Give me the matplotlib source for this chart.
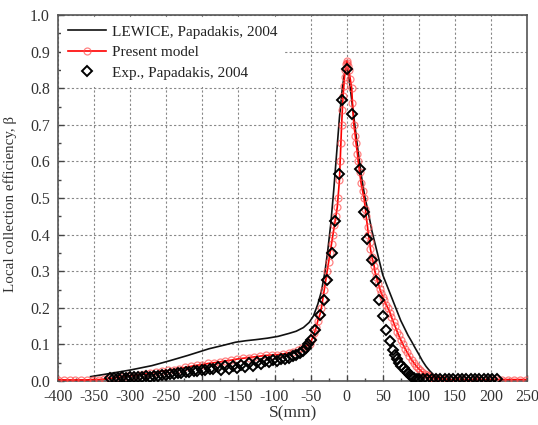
import matplotlib
matplotlib.use("Agg")
import matplotlib.pyplot as plt
from matplotlib.ticker import MultipleLocator

# ---------------- data ----------------
lewice_s = [-355, -330, -300, -270, -246, -220, -191, -170, -154, -140, -126, -110, -95, -80,
            -70, -60, -52, -46, -40, -35, -30, -26, -22, -18, -14, -10, -6, -3, 0,
            2, 5, 10, 15, 20, 25, 30, 35, 40, 45, 50, 55, 60, 65, 70, 75, 80, 85, 90,
            95, 100, 105, 110, 115, 120, 125, 130, 135, 140]
lewice_b = [0.012, 0.020, 0.030, 0.042, 0.055, 0.070, 0.088, 0.098, 0.106, 0.110, 0.113, 0.117,
            0.122, 0.130, 0.136, 0.146, 0.160, 0.178, 0.210, 0.245, 0.300, 0.360, 0.430, 0.520,
            0.620, 0.720, 0.800, 0.840, 0.855,
            0.845, 0.800, 0.720, 0.640, 0.565, 0.505, 0.460, 0.410, 0.370, 0.330, 0.290, 0.265,
            0.240, 0.215, 0.190, 0.165, 0.145, 0.125, 0.108, 0.090, 0.073, 0.055, 0.040, 0.028,
            0.018, 0.012, 0.007, 0.004, 0.003]

model_s = [-400, -392, -384, -376, -368, -360, -352, -344, -336, -328, -320, -312, -304, -296,
           -288, -280, -272, -264, -256, -248, -240, -232, -224, -216, -208, -200, -192, -184,
           -176, -168, -160, -152, -144, -136, -128, -120, -112, -104, -96, -88, -80, -74, -68,
           -62, -57, -51, -48, -45, -42, -40, -37, -35, -33, -31, -29, -27, -25, -23, -21, -19,
           -17, -15, -13, -12, -10, -9, -8, -7, -6, -5, -4, -3, -2, -1, 0,
           1, 2, 3, 5, 7, 8, 10, 12, 13, 15, 16, 18, 20, 22, 24, 26, 27, 29, 30, 32, 33, 35,
           36, 38, 39, 41, 44, 46, 48, 50, 52, 55, 57, 60, 62, 65, 67, 70, 72, 75, 78, 81, 84,
           87, 90, 93, 96, 99, 102, 105, 108, 111, 114, 117, 120, 124, 128, 132, 138, 144, 152,
           160, 168, 176, 184, 192, 200, 208, 216, 224, 232, 240, 248]
model_b = [0.004, 0.003, 0.003, 0.003, 0.003, 0.003, 0.004, 0.004, 0.005, 0.007, 0.009, 0.011,
           0.013, 0.015, 0.017, 0.019, 0.021, 0.024, 0.027, 0.029, 0.031, 0.034, 0.037, 0.040,
           0.043, 0.045, 0.048, 0.050, 0.052, 0.055, 0.057, 0.060, 0.062, 0.064, 0.066, 0.068,
           0.070, 0.071, 0.072, 0.074, 0.077, 0.080, 0.084, 0.090, 0.096, 0.100, 0.115, 0.130,
           0.148, 0.165, 0.182, 0.200, 0.225, 0.250, 0.275, 0.300, 0.325, 0.350, 0.375, 0.400,
           0.425, 0.450, 0.475, 0.500, 0.550, 0.600, 0.650, 0.700, 0.740, 0.780, 0.805, 0.830,
           0.850, 0.865, 0.875,
           0.870, 0.860, 0.850, 0.825, 0.800, 0.760, 0.700, 0.670, 0.650, 0.620, 0.600, 0.570,
           0.540, 0.520, 0.500, 0.470, 0.450, 0.420, 0.400, 0.380, 0.360, 0.340, 0.330, 0.315,
           0.300, 0.285, 0.265, 0.252, 0.240, 0.230, 0.220, 0.207, 0.200, 0.187, 0.175, 0.160,
           0.150, 0.135, 0.125, 0.112, 0.100, 0.088, 0.078, 0.068, 0.058, 0.050, 0.042, 0.035,
           0.030, 0.024, 0.020, 0.016, 0.013, 0.011, 0.009, 0.007, 0.006, 0.005, 0.005, 0.004,
           0.004, 0.004, 0.004, 0.004, 0.004, 0.004, 0.004, 0.004, 0.004, 0.004, 0.004, 0.004,
           0.004]

exp_s = [-328, -322, -317, -311, -306, -300, -295, -289, -284, -278, -273, -267, -262, -256,
         -251, -245, -240, -234, -229, -223, -218, -212, -207, -201, -196, -190, -185, -179,
         -174, -168, -163, -157, -152, -146, -141, -135, -130, -124, -119, -113, -108, -102,
         -97, -91, -86, -80, -75, -70, -65, -61, -57, -53, -50, -44, -37, -32, -27.5, -21,
         -16, -11, -6.5, 0, 7, 19, 24, 28.5, 34.5, 40, 44.5, 50.5, 54.5, 59.5, 64, 67, 70,
         73, 76, 79, 82, 85, 88, 91, 94, 97, 100, 106, 112, 118, 124, 130, 136, 142, 148,
         154, 160, 166, 172, 178, 184, 190, 196, 202, 208]
exp_b = [0.008, 0.009, 0.008, 0.010, 0.009, 0.011, 0.010, 0.012, 0.011, 0.013, 0.012, 0.014,
         0.015, 0.017, 0.016, 0.019, 0.020, 0.022, 0.021, 0.025, 0.024, 0.028, 0.027, 0.031,
         0.030, 0.034, 0.033, 0.037, 0.030, 0.040, 0.033, 0.042, 0.035, 0.045, 0.038, 0.048,
         0.042, 0.052, 0.047, 0.056, 0.052, 0.058, 0.055, 0.060, 0.061, 0.064, 0.068, 0.072,
         0.076, 0.082, 0.090, 0.100, 0.112, 0.139, 0.180, 0.221, 0.276, 0.350, 0.437, 0.565,
         0.768, 0.852, 0.730, 0.578, 0.462, 0.387, 0.330, 0.274, 0.220, 0.177, 0.140, 0.109,
         0.086, 0.070, 0.060, 0.050, 0.042, 0.035, 0.028, 0.022, 0.017, 0.012, 0.009, 0.006,
         0.005, 0.005, 0.006, 0.005, 0.006, 0.005, 0.006, 0.005, 0.006, 0.005, 0.006, 0.005,
         0.006, 0.005, 0.006, 0.005, 0.006, 0.005, 0.006]

xticks = [-400, -350, -300, -250, -200, -150, -100, -50, 0, 50, 100, 150, 200, 250]
yticks = [0.0, 0.1, 0.2, 0.3, 0.4, 0.5, 0.6, 0.7, 0.8, 0.9, 1.0]

# ---------------- plot ----------------
plt.rcParams['font.family'] = ['Liberation Serif', 'DejaVu Serif']
fig = plt.figure(figsize=(5.38, 4.25), dpi=100)
ax = fig.add_axes([0.108, 0.1035, 0.8716, 0.8612])

ax.plot(lewice_s, lewice_b, color='#111111', lw=1.2, label='LEWICE, Papadakis, 2004', zorder=3)
ax.plot(model_s, model_b, color='red', lw=1.2, marker='o', ms=5.0, mfc='none',
        mec=(1, 0.3, 0.3, 0.7), mew=0.9, label='Present model', zorder=4)
ax.plot(exp_s, exp_b, ls='none', marker='D', ms=5.2, mfc='none', mec='black', mew=1.4,
        label='Exp., Papadakis, 2004', zorder=5)

ax.set_xlim(-400, 250)
ax.set_ylim(0, 1.0)
ax.set_xticks(xticks)
ax.set_yticks(yticks)
ax.set_xticklabels([str(v) for v in xticks])
ax.set_yticklabels([f'{v:.1f}' for v in yticks])
ax.xaxis.set_minor_locator(MultipleLocator(25))
ax.yaxis.set_minor_locator(MultipleLocator(0.05))
ax.tick_params(which='both', direction='in', colors='#444444', labelcolor='#333333',
               labelsize=11.5)
ax.tick_params(axis='x', which='major', pad=6)
ax.tick_params(axis='y', which='major', pad=6)
ax.tick_params(which='major', length=4, width=1)
ax.tick_params(which='minor', length=2.5, width=1)
ax.grid(True, which='major', ls=(0, (2, 2)), color='#888888', lw=0.8)
for sp in ax.spines.values():
    sp.set_color('#555555')
    sp.set_linewidth(1.2)

ax.set_xlabel('S(mm)', fontsize=12.5, color='#333333', labelpad=0)
ax.set_ylabel('Local collection efficiency, β', fontsize=10.8, color='#333333')
ax.yaxis.set_label_coords(-0.087, 0.484)

leg = ax.legend(loc='upper left', frameon=True, fontsize=11, handlelength=2.5,
                borderaxespad=0.2, labelspacing=0.45, handletextpad=0.35, borderpad=0.45)
leg.get_frame().set_facecolor('white')
leg.get_frame().set_edgecolor('none')
leg.get_frame().set_alpha(1)
leg.set_zorder(10)
for t in leg.get_texts():
    t.set_color('#222222')

fig.savefig('out.png', dpi=100)
